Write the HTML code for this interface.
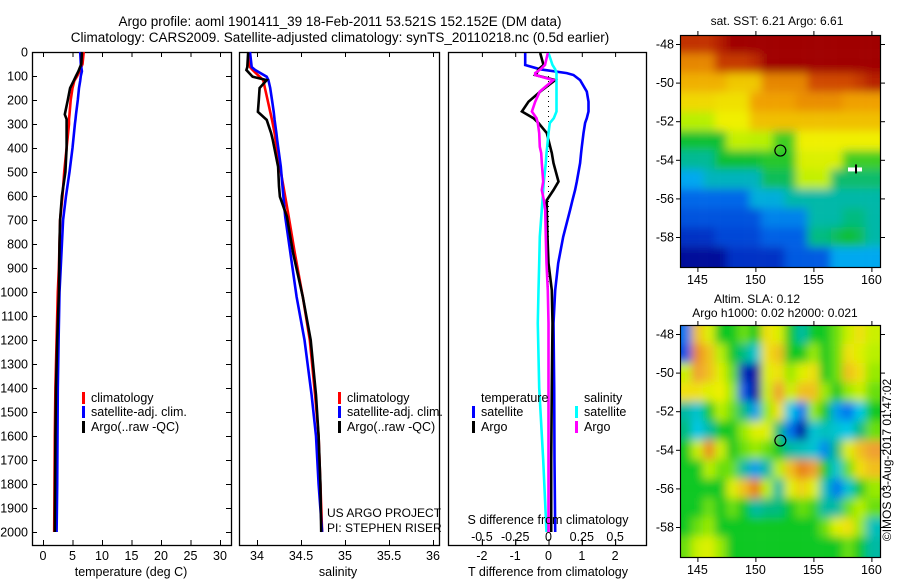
<!DOCTYPE html>
<html><head><meta charset="utf-8"><style>
html,body{margin:0;padding:0;background:#fff;}
svg{display:block;font-family:"Liberation Sans",sans-serif;}
text{fill:#000;}
</style></head><body>
<svg id="fig" width="900" height="580" viewBox="0 0 900 580" xmlns="http://www.w3.org/2000/svg">
<defs>
<filter id="blurA" x="-5%" y="-5%" width="110%" height="110%"><feGaussianBlur stdDeviation="4.5" edgeMode="duplicate"/></filter>
<filter id="blurB" x="-5%" y="-5%" width="110%" height="110%"><feGaussianBlur stdDeviation="4.5" edgeMode="duplicate"/></filter>
<clipPath id="clipSST"><rect x="680" y="35" width="200.5" height="232"/></clipPath>
<clipPath id="clipSLA"><rect x="680" y="325" width="200.5" height="232"/></clipPath>
</defs>
<text x="340" y="26" font-size="13.5" text-anchor="middle">Argo profile: aoml 1901411_39 18-Feb-2011 53.521S 152.152E (DM data)</text>
<text x="340" y="42" font-size="13.5" text-anchor="middle">Climatology: CARS2009. Satellite-adjusted climatology: synTS_20110218.nc (0.5d earlier)</text>
<g id="g1"></g>
<g id="g2"></g>
<g id="g3"></g>
<g id="g4"></g>
<g id="g5"></g>
<text x="327" y="517" font-size="12">US ARGO PROJECT</text>
<text x="327" y="532" font-size="12">PI: STEPHEN RISER</text>
<text x="777" y="25" font-size="12" text-anchor="middle">sat. SST: 6.21  Argo: 6.61</text>
<text x="757" y="303" font-size="12" text-anchor="middle">Altim. SLA: 0.12</text>
<text x="775" y="317" font-size="12" text-anchor="middle">Argo h1000: 0.02 h2000: 0.021</text>
<text x="0" y="0" font-size="12" text-anchor="middle" transform="translate(891,460) rotate(-90)">©IMOS 03-Aug-2017 01:47:02</text>
</svg>
<script>
// ---------- profile data ----------
const tDepth   = [0, 50, 80, 100, 120, 150, 200, 260, 280, 300, 400, 500, 600, 700, 800, 900, 1000, 1200, 1400, 1600, 1800, 2000];
const tClim    = [6.9, 6.7, 6.2, 5.8, 5.3, 5.0, 4.7, 4.5, 4.4, 4.4, 4.0, 3.6, 3.3, 2.9, 2.8, 2.7, 2.5, 2.3, 2.1, 2.0, 1.95, 1.9];
const tSat     = [6.3, 6.4, 6.6, 6.4, 6.3, 6.1, 5.9, 5.6, 5.5, 5.4, 5.0, 4.5, 3.9, 3.4, 3.2, 3.0, 2.8, 2.65, 2.5, 2.45, 2.4, 2.3];
const tArgo    = [6.6, 6.5, 6.0, 5.6, 5.2, 4.6, 4.2, 3.7, 4.0, 4.0, 4.0, 3.8, 3.2, 2.9, 2.8, 2.75, 2.7, 2.4, 2.2, 2.1, 2.05, 2.0];
const sDepth   = [0, 63, 75, 103, 117, 150, 200, 249, 283, 338, 367, 478, 560, 603, 686, 838, 1020, 1200, 1429, 1600, 1800, 2000];
const sClim    = [33.90, 33.92, 33.95, 34.03, 34.07, 34.09, 34.12, 34.15, 34.17, 34.20, 34.21, 34.26, 34.30, 34.32, 34.36, 34.43, 34.52, 34.60, 34.66, 34.70, 34.72, 34.74];
const sSat     = [33.92, 33.94, 33.98, 34.11, 34.13, 34.15, 34.17, 34.19, 34.20, 34.22, 34.23, 34.27, 34.29, 34.30, 34.32, 34.38, 34.45, 34.54, 34.62, 34.67, 34.70, 34.74];
const sArgo    = [33.90, 33.89, 33.88, 33.95, 34.11, 34.03, 34.02, 34.01, 34.11, 34.16, 34.18, 34.24, 34.25, 34.26, 34.34, 34.41, 34.52, 34.61, 34.67, 34.70, 34.72, 34.73];
const dDepth   = [4, 54, 72, 88, 96, 117, 165, 207, 248, 276, 296, 338, 395, 421, 463, 540, 575, 617, 658, 770, 880, 992, 1130, 1400, 1700, 2000];
const dTSat    = [-0.7, -0.7, -0.25, 0.55, 0.75, 0.95, 1.15, 1.2, 1.2, 1.15, 1.1, 1.05, 1.0, 0.98, 0.95, 0.85, 0.8, 0.72, 0.65, 0.44, 0.29, 0.2, 0.15, 0.17, 0.18, 0.2];
const dTArgo   = [-0.25, -0.15, -0.3, -0.35, -0.4, 0.2, -0.25, -0.6, -0.8, -0.45, -0.3, -0.05, 0.05, 0.1, 0.15, 0.3, 0.15, -0.05, -0.05, -0.03, 0.0, 0.1, 0.12, 0.1, 0.08, 0.08];
const dSSat    = [0.0, 0.03, 0.05, 0.06, 0.06, 0.06, 0.06, 0.06, 0.06, 0.04, 0.01, 0.0, -0.01, -0.015, -0.02, -0.035, -0.04, -0.045, -0.05, -0.065, -0.07, -0.075, -0.08, -0.07, -0.04, -0.015];
const dSArgo   = [-0.005, -0.026, -0.06, -0.1, -0.1, 0.035, -0.065, -0.1, -0.125, -0.09, -0.08, -0.07, -0.065, -0.055, -0.05, -0.04, -0.05, -0.035, -0.025, -0.02, -0.015, -0.005, 0.0, 0.0, 0.0, 0.0];
const depthTicks = [0,100,200,300,400,500,600,700,800,900,1000,1100,1200,1300,1400,1500,1600,1700,1800,1900,2000];
const tTicks   = [0, 5, 10, 15, 20, 25, 30];
const sTicks   = [34, 34.5, 35, 35.5, 36];
const sTickLabels = ['34','34.5','35','35.5','36'];
const dTTicks  = [-2, -1, 0, 1, 2];
const dSTicks  = [-0.5, -0.25, 0, 0.25, 0.5];
const dSTickLabels = ['-0.5','-0.25','0','0.25','0.5'];
// ---------- map data ----------
const mapLons = [144,145,146,147,148,149,150,151,152,153,154,155,156,157,158,159,160];
const mapLats = [-48,-49,-50,-51,-52,-53,-54,-55,-56,-57,-58,-59];
const lonTicks = [145,150,155,160];
const latTicks = [-48,-50,-52,-54,-56,-58];
const sstGrid = [
 [9.3,9.3,9.3,9.6,10,10,10,10,10,10,10,10,10,10,10,10,10],
 [8.3,8.3,8.3,9.2,9.2,9.2,9.4,10,10,10,10,10,10,10,10,10,10],
 [7.8,7.8,7.8,7.8,7.5,7.5,7.5,8.3,8.3,8.3,8.3,9.0,9.0,9.0,9.0,9.2,9.5],
 [7.3,7.3,7.3,7.2,7.2,7.2,8.0,8.0,8.0,8.0,8.2,8.2,8.2,8.2,8.0,8.0,8.0],
 [6.5,6.5,6.5,7.0,7.0,7.0,7.6,7.6,7.6,7.6,7.6,7.6,7.6,7.6,7.6,7.6,7.6],
 [5.8,5.8,5.8,5.8,6.6,6.6,6.5,6.5,6.0,6.0,7.0,7.0,7.0,7.0,7.0,7.0,7.0],
 [5.3,5.3,5.3,5.8,5.8,5.8,5.8,5.9,5.9,5.9,6.8,6.8,6.8,6.8,6.0,6.0,6.0],
 [4.5,4.5,5.0,5.0,5.0,5.0,5.0,5.6,5.6,5.6,6.6,6.6,6.6,5.5,5.5,5.5,5.5],
 [4.0,4.0,4.0,4.0,4.0,4.0,4.7,4.7,4.7,5.2,5.2,5.2,5.2,5.2,5.2,5.2,5.2],
 [3.7,3.7,3.7,3.7,3.7,3.7,3.7,4.2,4.2,4.2,4.2,5.2,5.2,5.2,5.4,5.4,5.2],
 [3.2,3.2,3.2,3.5,3.5,3.5,3.5,3.9,3.9,3.9,3.9,5.4,5.4,5.6,5.8,5.6,5.2],
 [2.8,2.8,2.8,2.8,3.2,3.2,3.2,3.2,3.2,3.8,3.8,3.8,3.8,4.5,4.5,4.5,4.5]
];
const slaGrid = [
 [-0.10,0.10,0.06,0.00,0.00,0.02,0.00,0.08,0.06,0.00,-0.03,0.00,0.00,0.02,0.05,0.08,0.05],
 [-0.12,0.14,0.10,0.04,0.00,-0.02,-0.05,0.08,0.10,0.00,0.00,0.03,0.00,0.02,0.08,0.06,0.04],
 [0.05,0.12,0.10,0.06,0.02,-0.15,-0.20,0.06,0.08,0.03,0.06,0.08,0.00,0.02,0.10,0.08,0.03],
 [0.08,0.08,0.06,0.07,0.03,-0.12,-0.22,0.05,0.12,0.05,0.10,0.10,0.03,0.00,0.03,0.05,0.02],
 [-0.03,-0.05,0.00,0.04,0.02,-0.02,-0.08,0.03,0.08,-0.06,-0.10,0.03,0.00,-0.08,-0.10,-0.06,0.00],
 [-0.02,-0.06,-0.03,0.00,0.00,0.03,0.06,0.06,-0.02,-0.10,-0.22,-0.05,-0.04,-0.05,-0.06,-0.02,0.02],
 [0.00,0.05,0.14,0.05,0.00,0.02,0.03,0.02,0.00,-0.03,-0.04,-0.05,-0.09,-0.02,0.06,0.10,0.12],
 [0.00,0.00,0.04,0.02,0.02,-0.03,-0.08,-0.03,0.04,0.10,0.15,0.12,0.00,-0.05,0.02,0.08,0.10],
 [0.00,0.00,0.00,0.00,0.06,0.10,0.15,0.04,-0.03,0.06,0.09,0.06,-0.04,-0.10,-0.05,0.00,0.03],
 [0.00,0.00,0.02,0.00,0.02,0.00,-0.03,-0.02,-0.02,0.00,0.02,0.01,-0.03,-0.03,0.02,0.04,0.02],
 [0.00,0.02,0.03,0.00,0.00,0.00,0.00,0.00,0.00,0.00,0.00,0.00,0.02,0.06,0.08,0.03,-0.04],
 [0.02,0.05,0.06,0.03,0.00,0.00,0.00,0.00,0.00,0.00,0.00,0.00,0.00,0.00,0.02,0.00,-0.03]
];
const argoLon = [152.152];
const argoLat = [-53.521];

const NS='http://www.w3.org/2000/svg';
function mk(tag, attrs, parent){const e=document.createElementNS(NS,tag);for(const k in attrs)e.setAttribute(k,attrs[k]);parent.appendChild(e);return e;}
const yD = d => 52 + d*0.24;
const xT = t => 43 + t*5.9;
const xS = s => 257 + (s-34)*88;
const xDT = t => 548.5 + t*33.3;
const xDS = s => 548.5 + s*133.2;
const TOP=52, BOT=545;

function frame(g,x0,x1,name){
  const r=mk('rect',{x:x0+0.5,y:TOP+0.5,width:x1-x0,height:BOT-TOP,fill:'none',stroke:'#000','stroke-width':1.3},g);
  
  
}
function line(g,xs,ds,fx,color,name){
  const pts=xs.map((v,i)=>fx(v).toFixed(1)+','+yD(ds[i]).toFixed(1)).join(' ');
  const p=mk('polyline',{points:pts,fill:'none',stroke:color,'stroke-width':2.6,'stroke-linejoin':'miter'},g);
  
  
}
function xticks(g,vals,labels,fx,name,labelY,withLabels){
  vals.forEach((v,i)=>{
    const x=fx(v)+0.5;
    mk('line',{x1:x,x2:x,y1:TOP,y2:TOP+5,stroke:'#000'},g);
    mk('line',{x1:x,x2:x,y1:BOT-5,y2:BOT,stroke:'#000'},g);
    if(withLabels){
      const t=mk('text',{x:fx(v),y:labelY,'font-size':12.5,'text-anchor':'middle'},g);
      t.textContent=labels[i];
      
      
    }
  });
}
function legendEntry(g,x,y,color,label,name){
  mk('rect',{x:x,y:y-10,width:3,height:12,fill:color},g);
  const t=mk('text',{x:x+9,y:y,'font-size':12.5},g);
  t.textContent=label;
  
  
}

// ---- panel 1: temperature
const g1=document.getElementById('g1');
frame(g1,32,231,'temperature-frame');
depthTicks.forEach(d=>{
  const y=yD(d)+0.5;
  mk('line',{x1:32,x2:37,y1:y,y2:y,stroke:'#000'},g1);
  mk('line',{x1:226,x2:231,y1:y,y2:y,stroke:'#000'},g1);
  const t=mk('text',{x:28,y:yD(d)+4.5,'font-size':12.5,'text-anchor':'end'},g1);
  t.textContent=String(d);
  
  
});
xticks(g1,tTicks,tTicks.map(String),xT,'temperature',560,true);
line(g1,tClim,tDepth,xT,'#ff0000','temperature-climatology-line');
line(g1,tSat,tDepth,xT,'#0000ff','temperature-satellite-line');
line(g1,tArgo,tDepth,xT,'#000000','temperature-argo-line');
legendEntry(g1,82,402,'#ff0000','climatology','temperature-legend-climatology');
legendEntry(g1,82,416,'#0000ff','satellite-adj. clim.','temperature-legend-satellite');
legendEntry(g1,82,431,'#000000','Argo(..raw -QC)','temperature-legend-argo');
{const t=mk('text',{x:131,y:576,'font-size':12.5,'text-anchor':'middle'},g1);t.textContent='temperature (deg C)';

}

// ---- panel 2: salinity
const g2=document.getElementById('g2');
frame(g2,239,439,'salinity-frame');
xticks(g2,sTicks,sTickLabels,xS,'salinity',560,true);
line(g2,sClim,sDepth,xS,'#ff0000','salinity-climatology-line');
line(g2,sSat,sDepth,xS,'#0000ff','salinity-satellite-line');
line(g2,sArgo,sDepth,xS,'#000000','salinity-argo-line');
legendEntry(g2,338,402,'#ff0000','climatology','salinity-legend-climatology');
legendEntry(g2,338,416,'#0000ff','satellite-adj. clim.','salinity-legend-satellite');
legendEntry(g2,338,431,'#000000','Argo(..raw -QC)','salinity-legend-argo');
{const t=mk('text',{x:338,y:576,'font-size':12.5,'text-anchor':'middle'},g2);t.textContent='salinity';

}

// ---- panel 3: differences
const g3=document.getElementById('g3');
frame(g3,448,646,'difference-frame');
xticks(g3,dTTicks,dTTicks.map(String),xDT,'t-difference',560,true);
{const z=mk('line',{x1:xDT(0),x2:xDT(0),y1:yD(100),y2:yD(2000),stroke:'#000','stroke-width':1,'stroke-dasharray':'1 4'},g3);

}
line(g3,dTSat,dDepth,xDT,'#0000ff','t-diff-satellite-line');
line(g3,dTArgo,dDepth,xDT,'#000000','t-diff-argo-line');
line(g3,dSSat,dDepth,xDS,'#00ffff','s-diff-satellite-line');
line(g3,dSArgo,dDepth,xDS,'#ff00ff','s-diff-argo-line');
dSTicks.forEach((v,i)=>{
  const x=xDS(v)+0.5;
  mk('line',{x1:x,x2:x,y1:539,y2:545,stroke:'#000'},g3);
  const t=mk('text',{x:xDS(v),y:541,'font-size':12.5,'text-anchor':'middle'},g3);
  t.textContent=dSTickLabels[i];
  
  
});
{const t=mk('text',{x:548,y:524,'font-size':12.5,'text-anchor':'middle'},g3);t.textContent='S difference from climatology';

}
{const t=mk('text',{x:548,y:576,'font-size':12.5,'text-anchor':'middle'},g3);t.textContent='T difference from climatology';

}
{const t=mk('text',{x:481,y:402,'font-size':12.5},g3);t.textContent='temperature';

}
{const t=mk('text',{x:584,y:402,'font-size':12.5},g3);t.textContent='salinity';

}
legendEntry(g3,472,416,'#0000ff','satellite','legend-t-satellite');
legendEntry(g3,472,431,'#000000','Argo','legend-t-argo');
legendEntry(g3,575,416,'#00ffff','satellite','legend-s-satellite');
legendEntry(g3,575,431,'#ff00ff','Argo','legend-s-argo');

// ---- maps
const lonX = l => 697.4 + (l-145)*11.6;
function hex(c){return [parseInt(c.slice(1,3),16),parseInt(c.slice(3,5),16),parseInt(c.slice(5,7),16)];}
function cmap(v,stops,cols){
  if(v<=stops[0])return cols[0];
  for(let i=1;i<stops.length;i++){
    if(v<=stops[i]){const f=(v-stops[i-1])/(stops[i]-stops[i-1]);const a=hex(cols[i-1]),b=hex(cols[i]);
      return 'rgb('+a.map((x,k)=>Math.round(x+(b[k]-x)*f)).join(',')+')';}
  }
  return cols[cols.length-1];
}
const sstStops=[2.8,3.3,4.0,4.5,5.2,5.8,6.5,7.0,8.0,9.0,10];
const sstCols=['#00109a','#0038d0','#0068e8','#00a8f0','#00b8a8','#10c030','#b8f000','#f0f000','#f0a000','#d04800','#a00000'];
const slaStops=[-0.17,-0.11,-0.06,-0.025,0,0.035,0.07,0.12,0.18];
const slaCols=['#0010a0','#0060f0','#00c8e8','#00b898','#10c820','#b0f000','#f0f000','#f0a030','#e06000'];

function drawMap(g,top,grid,stops,cols,clip,filter,name){
  const latY = la => top + 9 + (-48-la)*19.3;
  const bg=mk('g',{'clip-path':'url(#'+clip+')'},g);
  const inner=mk('g',{filter:'url(#'+filter+')'},bg);
  grid.forEach((row,r)=>row.forEach((v,c)=>{
    const cx=lonX(mapLons[c]), cy=latY(mapLats[r]);
    const rc=mk('rect',{x:(cx-5.8-(c===0?12:0)).toFixed(1),y:(cy-9.65-(r===0?12:0)).toFixed(1),width:11.7+(c===0||c===16?12:0),height:19.4+(r===0||r===11?12:0),fill:cmap(v,stops,cols)},inner);
    
    
  }));
  const fr=mk('rect',{x:680.5,y:top+0.5,width:200,height:232,fill:'none',stroke:'#000','stroke-width':1.2},g);
  
  
  lonTicks.forEach(l=>{
    const x=lonX(l)+0.5;
    mk('line',{x1:x,x2:x,y1:top-4,y2:top,stroke:'#000'},g);
    mk('line',{x1:x,x2:x,y1:top+232,y2:top+237,stroke:'#000'},g);
    const t=mk('text',{x:lonX(l),y:top+249,'font-size':12.5,'text-anchor':'middle'},g);
    t.textContent=String(l);
    
    
  });
  latTicks.forEach(la=>{
    const y=latY(la)+0.5;
    mk('line',{x1:676,x2:680,y1:y,y2:y,stroke:'#000'},g);
    mk('line',{x1:881,x2:885,y1:y,y2:y,stroke:'#000'},g);
    const t=mk('text',{x:674,y:latY(la)+4.5,'font-size':12.5,'text-anchor':'end'},g);
    t.textContent=String(la);
    
    
  });
  const c=mk('circle',{cx:lonX(argoLon[0]),cy:latY(argoLat[0]),r:5.5,fill:'none',stroke:'#000','stroke-width':1.2},g);
  
  
  return latY;
}
const g4=document.getElementById('g4');
const latY1=drawMap(g4,35,sstGrid,sstStops,sstCols,'clipSST','blurA','sst-map');
mk('rect',{x:848,y:latY1(-54.5)-2,width:14,height:4,fill:'#fff'},g4);
mk('rect',{x:855,y:latY1(-54.5)-5,width:2,height:9,fill:'#000'},g4);
const g5=document.getElementById('g5');
drawMap(g5,325,slaGrid,slaStops,slaCols,'clipSLA','blurB','sla-map');
</script>
</body></html>
